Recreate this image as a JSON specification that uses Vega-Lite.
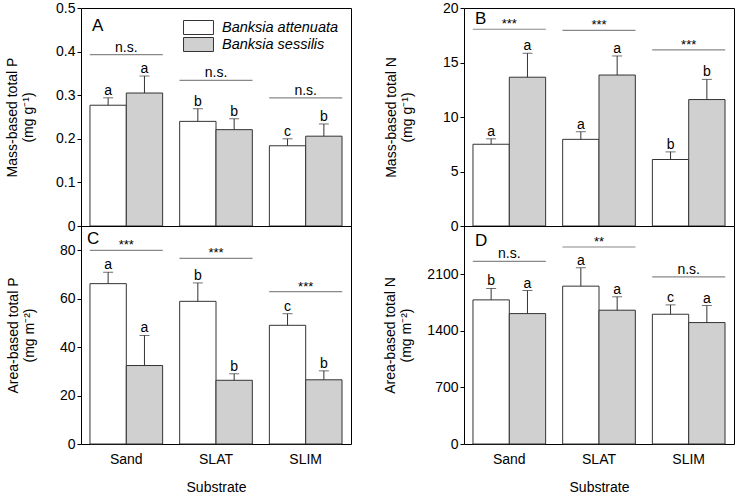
{
  "$schema": "https://vega.github.io/schema/vega-lite/v6.json",
  "background": "white",
  "padding": {"left": 5, "top": 0, "right": 0, "bottom": 0},
  "datasets": {
    "bars": [
      {"panel": "A", "substrate": "Sand", "species": "Banksia attenuata", "value": 0.277, "upper": 0.294, "letter": "a"},
      {"panel": "A", "substrate": "Sand", "species": "Banksia sessilis", "value": 0.305, "upper": 0.344, "letter": "a"},
      {"panel": "A", "substrate": "SLAT", "species": "Banksia attenuata", "value": 0.240, "upper": 0.269, "letter": "b"},
      {"panel": "A", "substrate": "SLAT", "species": "Banksia sessilis", "value": 0.221, "upper": 0.246, "letter": "b"},
      {"panel": "A", "substrate": "SLIM", "species": "Banksia attenuata", "value": 0.184, "upper": 0.200, "letter": "c"},
      {"panel": "A", "substrate": "SLIM", "species": "Banksia sessilis", "value": 0.206, "upper": 0.234, "letter": "b"},
      {"panel": "B", "substrate": "Sand", "species": "Banksia attenuata", "value": 7.5, "upper": 8.0, "letter": "a"},
      {"panel": "B", "substrate": "Sand", "species": "Banksia sessilis", "value": 13.65, "upper": 15.85, "letter": "a"},
      {"panel": "B", "substrate": "SLAT", "species": "Banksia attenuata", "value": 7.95, "upper": 8.65, "letter": "a"},
      {"panel": "B", "substrate": "SLAT", "species": "Banksia sessilis", "value": 13.85, "upper": 15.6, "letter": "a"},
      {"panel": "B", "substrate": "SLIM", "species": "Banksia attenuata", "value": 6.1, "upper": 6.8, "letter": "b"},
      {"panel": "B", "substrate": "SLIM", "species": "Banksia sessilis", "value": 11.6, "upper": 13.45, "letter": "b"},
      {"panel": "C", "substrate": "Sand", "species": "Banksia attenuata", "value": 66.2, "upper": 70.9, "letter": "a"},
      {"panel": "C", "substrate": "Sand", "species": "Banksia sessilis", "value": 32.4, "upper": 44.8, "letter": "a"},
      {"panel": "C", "substrate": "SLAT", "species": "Banksia attenuata", "value": 58.9, "upper": 66.5, "letter": "b"},
      {"panel": "C", "substrate": "SLAT", "species": "Banksia sessilis", "value": 26.3, "upper": 29.0, "letter": "b"},
      {"panel": "C", "substrate": "SLIM", "species": "Banksia attenuata", "value": 49.0, "upper": 53.8, "letter": "c"},
      {"panel": "C", "substrate": "SLIM", "species": "Banksia sessilis", "value": 26.5, "upper": 30.2, "letter": "b"},
      {"panel": "D", "substrate": "Sand", "species": "Banksia attenuata", "value": 1785, "upper": 1926, "letter": "b"},
      {"panel": "D", "substrate": "Sand", "species": "Banksia sessilis", "value": 1615, "upper": 1901, "letter": "a"},
      {"panel": "D", "substrate": "SLAT", "species": "Banksia attenuata", "value": 1955, "upper": 2183, "letter": "a"},
      {"panel": "D", "substrate": "SLAT", "species": "Banksia sessilis", "value": 1657, "upper": 1823, "letter": "a"},
      {"panel": "D", "substrate": "SLIM", "species": "Banksia attenuata", "value": 1607, "upper": 1723, "letter": "c"},
      {"panel": "D", "substrate": "SLIM", "species": "Banksia sessilis", "value": 1504, "upper": 1715, "letter": "a"}
    ],
    "sig": [
      {"panel": "A", "substrate": "Sand", "y": 0.393, "label": "n.s."},
      {"panel": "A", "substrate": "SLAT", "y": 0.334, "label": "n.s."},
      {"panel": "A", "substrate": "SLIM", "y": 0.294, "label": "n.s."},
      {"panel": "B", "substrate": "Sand", "y": 18.05, "label": "***"},
      {"panel": "B", "substrate": "SLAT", "y": 17.95, "label": "***"},
      {"panel": "B", "substrate": "SLIM", "y": 16.15, "label": "***"},
      {"panel": "C", "substrate": "Sand", "y": 79.9, "label": "***"},
      {"panel": "C", "substrate": "SLAT", "y": 76.6, "label": "***"},
      {"panel": "C", "substrate": "SLIM", "y": 62.9, "label": "***"},
      {"panel": "D", "substrate": "Sand", "y": 2262, "label": "n.s."},
      {"panel": "D", "substrate": "SLAT", "y": 2440, "label": "**"},
      {"panel": "D", "substrate": "SLIM", "y": 2071, "label": "n.s."}
    ],
    "panels": [
      {"panel": "A", "label": "A"},
      {"panel": "B", "label": "B"},
      {"panel": "C", "label": "C"},
      {"panel": "D", "label": "D"}
    ]
  },
  "columns": 2,
  "spacing": {"row": 0, "column": 113},
  "bounds": "flush",
  "resolve": {
    "scale": {"fill": "independent", "x": "independent", "y": "independent", "xOffset": "independent"},
    "legend": {"fill": "independent"}
  },
  "concat": [
    {
      "width": 270, "height": 218,
      "layer": [
        {
          "data": {"name": "bars"},
          "transform": [{"filter": "datum.panel == 'A'"}],
          "layer": [
            {
              "mark": {"type": "bar", "stroke": "#333", "strokeWidth": 1},
              "encoding": {
                "x": {"field": "substrate", "type": "nominal", "sort": ["Sand", "SLAT", "SLIM"], "scale": {"paddingInner": 0.19, "paddingOuter": 0.1}, "axis": null},
                "xOffset": {"field": "species", "type": "nominal", "scale": {"paddingInner": 0, "paddingOuter": 0}},
                "y": {"field": "value", "type": "quantitative", "scale": {"domain": [0, 0.5], "nice": false},
                  "axis": {"title": ["Mass-based total P", "(mg g⁻¹)"], "values": [0, 0.05, 0.1, 0.15, 0.2, 0.25, 0.3, 0.35, 0.4, 0.45, 0.5], "format": "~g",
                    "labelExpr": "abs(datum.value*10-round(datum.value*10))<1e-6 ? datum.label : ''",
                    "tickSize": {"condition": {"test": "abs(datum.value*10-round(datum.value*10))<1e-6", "value": 4}, "value": -3},
                    "domain": false, "titlePadding": 20, "labelPadding": 2}},
                "fill": {"field": "species", "type": "nominal", "scale": {"domain": ["Banksia attenuata", "Banksia sessilis"], "range": ["#ffffff", "#d0d0d0"]},
                  "legend": {"orient": "none", "legendX": 110, "legendY": 12, "title": null, "symbolType": "M-2.14,-1H2.14V1H-2.14Z", "symbolSize": 196, "symbolStrokeColor": "#333", "symbolStrokeWidth": 1, "symbolOpacity": 1, "labelFontSize": 14.5, "labelFontStyle": "italic", "labelOffset": 16, "rowPadding": -4.5, "padding": 0, "labelColor": "black"}}
              }
            },
            {
              "mark": {"type": "rule", "color": "#333", "strokeWidth": 1},
              "encoding": {
                "x": {"field": "substrate", "type": "nominal", "sort": ["Sand", "SLAT", "SLIM"], "axis": null},
                "xOffset": {"field": "species", "type": "nominal"},
                "y": {"field": "value", "type": "quantitative"},
                "y2": {"field": "upper"}
              }
            },
            {
              "mark": {"type": "tick", "color": "#333", "size": 10, "thickness": 1},
              "encoding": {
                "x": {"field": "substrate", "type": "nominal", "sort": ["Sand", "SLAT", "SLIM"], "axis": null},
                "xOffset": {"field": "species", "type": "nominal"},
                "y": {"field": "upper", "type": "quantitative"}
              }
            },
            {
              "mark": {"type": "text", "baseline": "alphabetic", "dy": -3, "fontSize": 14, "color": "black"},
              "encoding": {
                "x": {"field": "substrate", "type": "nominal", "sort": ["Sand", "SLAT", "SLIM"], "axis": null},
                "xOffset": {"field": "species", "type": "nominal"},
                "y": {"field": "upper", "type": "quantitative"},
                "text": {"field": "letter"}
              }
            }
          ]
        },
        {
          "data": {"name": "sig"},
          "transform": [{"filter": "datum.panel == 'A'"}],
          "layer": [
            {
              "mark": {"type": "tick", "color": "#555", "size": 73, "thickness": 1.2},
              "encoding": {
                "x": {"field": "substrate", "type": "nominal", "sort": ["Sand", "SLAT", "SLIM"], "axis": null},
                "y": {"field": "y", "type": "quantitative"}
              }
            },
            {
              "transform": [{"filter": "datum.label == 'n.s.'"}],
              "mark": {"type": "text", "baseline": "alphabetic", "dy": -3, "fontSize": 14, "color": "black"},
              "encoding": {
                "x": {"field": "substrate", "type": "nominal", "sort": ["Sand", "SLAT", "SLIM"], "axis": null},
                "y": {"field": "y", "type": "quantitative"},
                "text": {"field": "label"}
              }
            },
            {
              "transform": [{"filter": "datum.label != 'n.s.'"}],
              "mark": {"type": "text", "baseline": "alphabetic", "dy": -1, "fontSize": 13, "color": "black"},
              "encoding": {
                "x": {"field": "substrate", "type": "nominal", "sort": ["Sand", "SLAT", "SLIM"], "axis": null},
                "y": {"field": "y", "type": "quantitative"},
                "text": {"field": "label"}
              }
            }
          ]
        },
        {
          "data": {"name": "panels"},
          "transform": [{"filter": "datum.panel == 'A'"}],
          "mark": {"type": "text", "align": "left", "baseline": "alphabetic", "fontSize": 17, "dx": 2, "dy": 23, "color": "black"},
          "encoding": {
            "x": {"datum": "Sand", "type": "nominal", "bandPosition": 0, "axis": null},
            "y": {"datum": 0.5, "type": "quantitative"},
            "text": {"field": "label"}
          }
        }
      ]
    },
    {
      "width": 270, "height": 218,
      "layer": [
        {
          "data": {"name": "bars"},
          "transform": [{"filter": "datum.panel == 'B'"}],
          "layer": [
            {
              "mark": {"type": "bar", "stroke": "#333", "strokeWidth": 1},
              "encoding": {
                "x": {"field": "substrate", "type": "nominal", "sort": ["Sand", "SLAT", "SLIM"], "scale": {"paddingInner": 0.19, "paddingOuter": 0.1}, "axis": null},
                "xOffset": {"field": "species", "type": "nominal", "scale": {"paddingInner": 0, "paddingOuter": 0}},
                "y": {"field": "value", "type": "quantitative", "scale": {"domain": [0, 20], "nice": false},
                  "axis": {"title": ["Mass-based total N", "(mg g⁻¹)"], "values": [0, 2.5, 5, 7.5, 10, 12.5, 15, 17.5, 20], "format": "~g",
                    "labelExpr": "datum.value % 5 == 0 ? datum.label : ''",
                    "tickSize": {"condition": {"test": "datum.value % 5 == 0", "value": 4}, "value": -3},
                    "domain": false, "titlePadding": 28, "labelPadding": 2}},
                "fill": {"field": "species", "type": "nominal", "scale": {"domain": ["Banksia attenuata", "Banksia sessilis"], "range": ["#ffffff", "#d0d0d0"]}, "legend": null}
              }
            },
            {
              "mark": {"type": "rule", "color": "#333", "strokeWidth": 1},
              "encoding": {
                "x": {"field": "substrate", "type": "nominal", "sort": ["Sand", "SLAT", "SLIM"], "axis": null},
                "xOffset": {"field": "species", "type": "nominal"},
                "y": {"field": "value", "type": "quantitative"},
                "y2": {"field": "upper"}
              }
            },
            {
              "mark": {"type": "tick", "color": "#333", "size": 10, "thickness": 1},
              "encoding": {
                "x": {"field": "substrate", "type": "nominal", "sort": ["Sand", "SLAT", "SLIM"], "axis": null},
                "xOffset": {"field": "species", "type": "nominal"},
                "y": {"field": "upper", "type": "quantitative"}
              }
            },
            {
              "mark": {"type": "text", "baseline": "alphabetic", "dy": -3, "fontSize": 14, "color": "black"},
              "encoding": {
                "x": {"field": "substrate", "type": "nominal", "sort": ["Sand", "SLAT", "SLIM"], "axis": null},
                "xOffset": {"field": "species", "type": "nominal"},
                "y": {"field": "upper", "type": "quantitative"},
                "text": {"field": "letter"}
              }
            }
          ]
        },
        {
          "data": {"name": "sig"},
          "transform": [{"filter": "datum.panel == 'B'"}],
          "layer": [
            {
              "mark": {"type": "tick", "color": "#555", "size": 73, "thickness": 1.2},
              "encoding": {
                "x": {"field": "substrate", "type": "nominal", "sort": ["Sand", "SLAT", "SLIM"], "axis": null},
                "y": {"field": "y", "type": "quantitative"}
              }
            },
            {
              "transform": [{"filter": "datum.label == 'n.s.'"}],
              "mark": {"type": "text", "baseline": "alphabetic", "dy": -3, "fontSize": 14, "color": "black"},
              "encoding": {
                "x": {"field": "substrate", "type": "nominal", "sort": ["Sand", "SLAT", "SLIM"], "axis": null},
                "y": {"field": "y", "type": "quantitative"},
                "text": {"field": "label"}
              }
            },
            {
              "transform": [{"filter": "datum.label != 'n.s.'"}],
              "mark": {"type": "text", "baseline": "alphabetic", "dy": -1, "fontSize": 13, "color": "black"},
              "encoding": {
                "x": {"field": "substrate", "type": "nominal", "sort": ["Sand", "SLAT", "SLIM"], "axis": null},
                "y": {"field": "y", "type": "quantitative"},
                "text": {"field": "label"}
              }
            }
          ]
        },
        {
          "data": {"name": "panels"},
          "transform": [{"filter": "datum.panel == 'B'"}],
          "mark": {"type": "text", "align": "left", "baseline": "alphabetic", "fontSize": 17, "dx": 2, "dy": 16, "color": "black"},
          "encoding": {
            "x": {"datum": "Sand", "type": "nominal", "bandPosition": 0, "axis": null},
            "y": {"datum": 20, "type": "quantitative"},
            "text": {"field": "label"}
          }
        }
      ]
    },
    {
      "width": 270, "height": 218,
      "layer": [
        {
          "data": {"name": "bars"},
          "transform": [{"filter": "datum.panel == 'C'"}],
          "layer": [
            {
              "mark": {"type": "bar", "stroke": "#333", "strokeWidth": 1},
              "encoding": {
                "x": {"field": "substrate", "type": "nominal", "sort": ["Sand", "SLAT", "SLIM"], "scale": {"paddingInner": 0.19, "paddingOuter": 0.1},
                  "axis": {"title": "Substrate", "labelAngle": 0, "ticks": false, "domain": false, "labelPadding": 8, "titlePadding": 14}},
                "xOffset": {"field": "species", "type": "nominal", "scale": {"paddingInner": 0, "paddingOuter": 0}},
                "y": {"field": "value", "type": "quantitative", "scale": {"domain": [0, 90], "nice": false},
                  "axis": {"title": ["Area-based total P", "(mg m⁻²)"], "values": [0, 10, 20, 30, 40, 50, 60, 70, 80, 90], "format": "d",
                    "labelExpr": "datum.value % 20 == 0 ? datum.label : ''",
                    "tickSize": {"condition": {"test": "datum.value % 20 == 0", "value": 4}, "value": -3},
                    "domain": false, "titlePadding": 23, "labelPadding": 2}},
                "fill": {"field": "species", "type": "nominal", "scale": {"domain": ["Banksia attenuata", "Banksia sessilis"], "range": ["#ffffff", "#d0d0d0"]}, "legend": null}
              }
            },
            {
              "mark": {"type": "rule", "color": "#333", "strokeWidth": 1},
              "encoding": {
                "x": {"field": "substrate", "type": "nominal", "sort": ["Sand", "SLAT", "SLIM"]},
                "xOffset": {"field": "species", "type": "nominal"},
                "y": {"field": "value", "type": "quantitative"},
                "y2": {"field": "upper"}
              }
            },
            {
              "mark": {"type": "tick", "color": "#333", "size": 10, "thickness": 1},
              "encoding": {
                "x": {"field": "substrate", "type": "nominal", "sort": ["Sand", "SLAT", "SLIM"]},
                "xOffset": {"field": "species", "type": "nominal"},
                "y": {"field": "upper", "type": "quantitative"}
              }
            },
            {
              "mark": {"type": "text", "baseline": "alphabetic", "dy": -3, "fontSize": 14, "color": "black"},
              "encoding": {
                "x": {"field": "substrate", "type": "nominal", "sort": ["Sand", "SLAT", "SLIM"]},
                "xOffset": {"field": "species", "type": "nominal"},
                "y": {"field": "upper", "type": "quantitative"},
                "text": {"field": "letter"}
              }
            }
          ]
        },
        {
          "data": {"name": "sig"},
          "transform": [{"filter": "datum.panel == 'C'"}],
          "layer": [
            {
              "mark": {"type": "tick", "color": "#555", "size": 73, "thickness": 1.2},
              "encoding": {
                "x": {"field": "substrate", "type": "nominal", "sort": ["Sand", "SLAT", "SLIM"]},
                "y": {"field": "y", "type": "quantitative"}
              }
            },
            {
              "transform": [{"filter": "datum.label == 'n.s.'"}],
              "mark": {"type": "text", "baseline": "alphabetic", "dy": -3, "fontSize": 14, "color": "black"},
              "encoding": {
                "x": {"field": "substrate", "type": "nominal", "sort": ["Sand", "SLAT", "SLIM"]},
                "y": {"field": "y", "type": "quantitative"},
                "text": {"field": "label"}
              }
            },
            {
              "transform": [{"filter": "datum.label != 'n.s.'"}],
              "mark": {"type": "text", "baseline": "alphabetic", "dy": -1, "fontSize": 13, "color": "black"},
              "encoding": {
                "x": {"field": "substrate", "type": "nominal", "sort": ["Sand", "SLAT", "SLIM"]},
                "y": {"field": "y", "type": "quantitative"},
                "text": {"field": "label"}
              }
            }
          ]
        },
        {
          "data": {"name": "panels"},
          "transform": [{"filter": "datum.panel == 'C'"}],
          "mark": {"type": "text", "align": "left", "baseline": "alphabetic", "fontSize": 17, "dx": -3, "dy": 18, "color": "black"},
          "encoding": {
            "x": {"datum": "Sand", "type": "nominal", "bandPosition": 0},
            "y": {"datum": 90, "type": "quantitative"},
            "text": {"field": "label"}
          }
        }
      ]
    },
    {
      "width": 270, "height": 218,
      "layer": [
        {
          "data": {"name": "bars"},
          "transform": [{"filter": "datum.panel == 'D'"}],
          "layer": [
            {
              "mark": {"type": "bar", "stroke": "#333", "strokeWidth": 1},
              "encoding": {
                "x": {"field": "substrate", "type": "nominal", "sort": ["Sand", "SLAT", "SLIM"], "scale": {"paddingInner": 0.19, "paddingOuter": 0.1},
                  "axis": {"title": "Substrate", "labelAngle": 0, "ticks": false, "domain": false, "labelPadding": 8, "titlePadding": 14}},
                "xOffset": {"field": "species", "type": "nominal", "scale": {"paddingInner": 0, "paddingOuter": 0}},
                "y": {"field": "value", "type": "quantitative", "scale": {"domain": [0, 2700], "nice": false},
                  "axis": {"title": ["Area-based total N", "(mg m⁻²)"], "values": [0, 350, 700, 1050, 1400, 1750, 2100, 2450], "format": "d",
                    "labelExpr": "datum.value % 700 == 0 ? datum.label : ''",
                    "tickSize": {"condition": {"test": "datum.value % 700 == 0", "value": 4}, "value": -3},
                    "domain": false, "titlePadding": 13, "labelPadding": 2}},
                "fill": {"field": "species", "type": "nominal", "scale": {"domain": ["Banksia attenuata", "Banksia sessilis"], "range": ["#ffffff", "#d0d0d0"]}, "legend": null}
              }
            },
            {
              "mark": {"type": "rule", "color": "#333", "strokeWidth": 1},
              "encoding": {
                "x": {"field": "substrate", "type": "nominal", "sort": ["Sand", "SLAT", "SLIM"]},
                "xOffset": {"field": "species", "type": "nominal"},
                "y": {"field": "value", "type": "quantitative"},
                "y2": {"field": "upper"}
              }
            },
            {
              "mark": {"type": "tick", "color": "#333", "size": 10, "thickness": 1},
              "encoding": {
                "x": {"field": "substrate", "type": "nominal", "sort": ["Sand", "SLAT", "SLIM"]},
                "xOffset": {"field": "species", "type": "nominal"},
                "y": {"field": "upper", "type": "quantitative"}
              }
            },
            {
              "mark": {"type": "text", "baseline": "alphabetic", "dy": -3, "fontSize": 14, "color": "black"},
              "encoding": {
                "x": {"field": "substrate", "type": "nominal", "sort": ["Sand", "SLAT", "SLIM"]},
                "xOffset": {"field": "species", "type": "nominal"},
                "y": {"field": "upper", "type": "quantitative"},
                "text": {"field": "letter"}
              }
            }
          ]
        },
        {
          "data": {"name": "sig"},
          "transform": [{"filter": "datum.panel == 'D'"}],
          "layer": [
            {
              "mark": {"type": "tick", "color": "#555", "size": 73, "thickness": 1.2},
              "encoding": {
                "x": {"field": "substrate", "type": "nominal", "sort": ["Sand", "SLAT", "SLIM"]},
                "y": {"field": "y", "type": "quantitative"}
              }
            },
            {
              "transform": [{"filter": "datum.label == 'n.s.'"}],
              "mark": {"type": "text", "baseline": "alphabetic", "dy": -3, "fontSize": 14, "color": "black"},
              "encoding": {
                "x": {"field": "substrate", "type": "nominal", "sort": ["Sand", "SLAT", "SLIM"]},
                "y": {"field": "y", "type": "quantitative"},
                "text": {"field": "label"}
              }
            },
            {
              "transform": [{"filter": "datum.label != 'n.s.'"}],
              "mark": {"type": "text", "baseline": "alphabetic", "dy": -1, "fontSize": 13, "color": "black"},
              "encoding": {
                "x": {"field": "substrate", "type": "nominal", "sort": ["Sand", "SLAT", "SLIM"]},
                "y": {"field": "y", "type": "quantitative"},
                "text": {"field": "label"}
              }
            }
          ]
        },
        {
          "data": {"name": "panels"},
          "transform": [{"filter": "datum.panel == 'D'"}],
          "mark": {"type": "text", "align": "left", "baseline": "alphabetic", "fontSize": 17, "dx": 2, "dy": 20, "color": "black"},
          "encoding": {
            "x": {"datum": "Sand", "type": "nominal", "bandPosition": 0},
            "y": {"datum": 2700, "type": "quantitative"},
            "text": {"field": "label"}
          }
        }
      ]
    }
  ],
  "config": {
    "font": "Liberation Sans",
    "view": {"stroke": "black", "strokeWidth": 1},
    "axis": {"labelFontSize": 14, "titleFontSize": 14, "titleFontWeight": "normal", "labelColor": "black", "titleColor": "black", "tickColor": "black", "domainColor": "black", "grid": false, "labelFont": "Liberation Sans", "titleFont": "Liberation Sans"},
    "legend": {"labelFont": "Liberation Sans"},
    "text": {"font": "Liberation Sans"}
  }
}
